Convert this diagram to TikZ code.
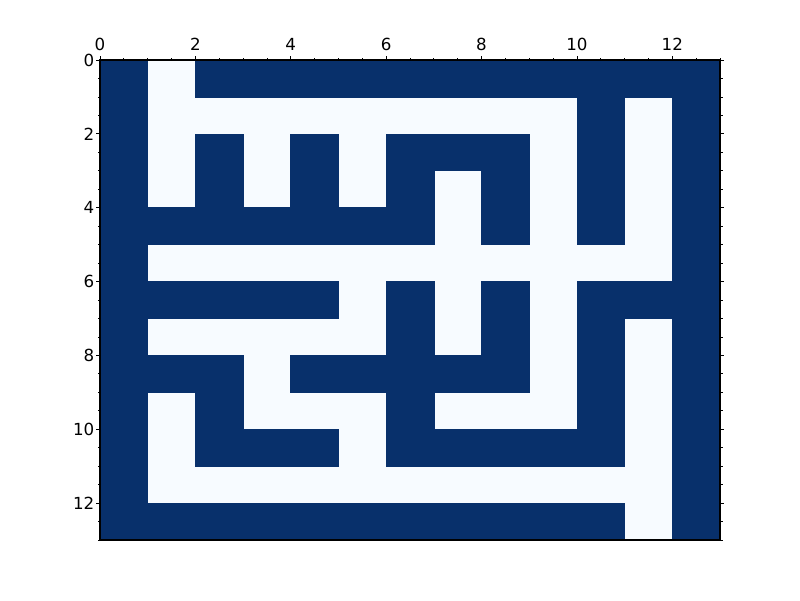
\documentclass[tikz,border=0pt]{standalone}
\usepackage{fontspec}
\setmainfont{DejaVu Sans}
\definecolor{mazewall}{HTML}{08306B}
\definecolor{mazepath}{HTML}{F7FBFF}
\begin{document}
\begin{tikzpicture}[x=0.72pt, y=-0.72pt, font=\fontsize{12}{14}\selectfont,
  wall/.style={fill=mazewall, draw=mazewall, line width=0.4pt},
  spine/.style={draw=black, line width=0.8pt},
  majortick/.style={line width=0.6pt},
  minortick/.style={line width=0.6pt},
  ticklabel/.style={inner sep=0pt}]
  \useasboundingbox (0,0) rectangle (800,600);
  % maze cells, one row per list
  \begin{scope}[shift={(100,60)}, xscale=47.6923, yscale=36.9231]
    \fill[mazepath] (0,0) rectangle (13,13);
    \foreach \row [count=\r from 0] in {
      {1,0,1,1,1,1,1,1,1,1,1,1,1},
      {1,0,0,0,0,0,0,0,0,0,1,0,1},
      {1,0,1,0,1,0,1,1,1,0,1,0,1},
      {1,0,1,0,1,0,1,0,1,0,1,0,1},
      {1,1,1,1,1,1,1,0,1,0,1,0,1},
      {1,0,0,0,0,0,0,0,0,0,0,0,1},
      {1,1,1,1,1,0,1,0,1,0,1,1,1},
      {1,0,0,0,0,0,1,0,1,0,1,0,1},
      {1,1,1,0,1,1,1,1,1,0,1,0,1},
      {1,0,1,0,0,0,1,0,0,0,1,0,1},
      {1,0,1,1,1,0,1,1,1,1,1,0,1},
      {1,0,0,0,0,0,0,0,0,0,0,0,1},
      {1,1,1,1,1,1,1,1,1,1,1,0,1}}{
      \foreach \v [count=\c from 0] in \row {
        \ifnum\v=1 \path[wall] (\c,\r) rectangle ++(1,1); \fi
      }
    }
  \end{scope}
  % axes frame
  \path[spine] (100,60) rectangle (720,540);
  % ticks every half unit, major every two units
  \foreach \i in {0,...,26}{
    \pgfmathsetmacro{\tx}{100+\i*23.84615}
    \pgfmathsetmacro{\ty}{60+\i*18.46154}
    \pgfmathtruncatemacro{\ismajor}{mod(\i,4)==0}
    \ifnum\ismajor=1
      \draw[majortick] (\tx,60) -- ++(0,-4);
      \draw[majortick] (100,\ty) -- ++(-4,0);
      \draw[majortick] (720,\ty) -- ++(4,0);
    \else
      \draw[minortick] (\tx,60) -- ++(0,-2.5);
      \draw[minortick] (100,\ty) -- ++(-2.5,0);
      \draw[minortick] (720,\ty) -- ++(2.5,0);
    \fi
  }
  % tick labels
  \foreach \n in {0,2,...,12}{
    \node[ticklabel, anchor=base] (xl\n) at (100+\n*47.6923,50) {\n};
    \node[ticklabel, anchor=east] (yl\n) at (94.5,60+\n*36.9231) {\n};
  }
\end{tikzpicture}
\end{document}
